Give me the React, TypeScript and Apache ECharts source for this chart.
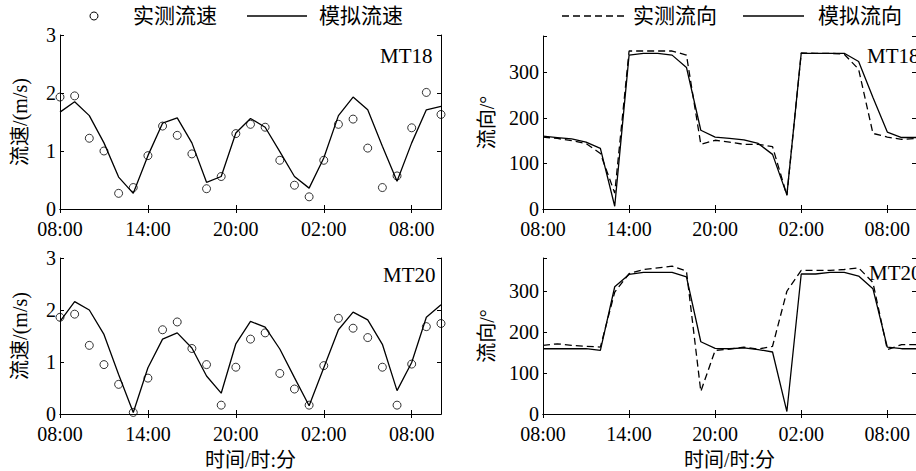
import React, { useEffect, useRef } from 'react';
import * as echarts from 'echarts';

const times = [
  '08:00', '09:00', '10:00', '11:00', '12:00', '13:00', '14:00', '15:00', '16:00',
  '17:00', '18:00', '19:00', '20:00', '21:00', '22:00', '23:00', '00:00', '01:00',
  '02:00', '03:00', '04:00', '05:00', '06:00', '07:00', '08:00', '09:00', '10:00',
];

const mt18SpeedObs = [1.93, 1.95, 1.22, 1.0, 0.27, 0.37, 0.92, 1.43, 1.27, 0.95, 0.35, 0.56, 1.3, 1.46, 1.41, 0.84, 0.41, 0.21, 0.84, 1.46, 1.55, 1.05, 0.37, 0.57, 1.4, 2.01, 1.63];
const mt18SpeedSim = [1.67, 1.85, 1.61, 1.14, 0.55, 0.27, 0.92, 1.48, 1.57, 1.14, 0.46, 0.56, 1.31, 1.56, 1.41, 0.99, 0.56, 0.36, 0.88, 1.61, 1.93, 1.71, 1.08, 0.48, 1.14, 1.71, 1.77];
const mt20SpeedObs = [1.86, 1.92, 1.32, 0.95, 0.57, 0.03, 0.69, 1.62, 1.77, 1.26, 0.95, 0.17, 0.9, 1.44, 1.56, 0.78, 0.48, 0.17, 0.93, 1.84, 1.65, 1.47, 0.9, 0.17, 0.96, 1.68, 1.74];
const mt20SpeedSim = [1.78, 2.16, 2.0, 1.53, 0.76, 0.03, 0.89, 1.44, 1.56, 1.27, 0.73, 0.4, 1.35, 1.78, 1.67, 1.25, 0.7, 0.16, 0.89, 1.62, 1.96, 1.81, 1.34, 0.45, 0.99, 1.86, 2.1];

const mt18DirObs = [158, 155, 150, 144, 122, 35, 347, 347, 347, 347, 338, 142, 151, 147, 142, 142, 137, 30, 343, 342, 342, 340, 307, 166, 158, 153, 155];
const mt18DirSim = [160, 157, 154, 147, 133, 6, 338, 342, 342, 338, 311, 173, 158, 155, 152, 144, 120, 31, 342, 342, 342, 342, 324, 245, 169, 157, 157];
const mt20DirObs = [167, 171, 167, 165, 163, 297, 342, 352, 356, 360, 348, 55, 155, 158, 163, 158, 165, 299, 350, 350, 350, 352, 356, 320, 157, 169, 169];
const mt20DirSim = [159, 159, 159, 159, 155, 310, 340, 345, 345, 345, 334, 176, 160, 159, 161, 157, 151, 6, 341, 341, 345, 345, 336, 305, 163, 159, 159];

const FONT = "'Liberation Serif', 'Noto Sans CJK SC', serif";
const BLACK = '#000';

function xAxes(gridIndex: number, name?: string) {
  const common = {
    type: 'category',
    data: times,
    boundaryGap: false,
    gridIndex,
    axisLine: { show: true, lineStyle: { color: BLACK, width: 1 } },
    axisTick: { show: true, inside: true, length: 4, interval: 5, lineStyle: { color: BLACK } },
    splitLine: { show: false },
  };
  return [
    {
      ...common,
      position: 'bottom',
      axisLabel: { interval: 5, color: BLACK, fontSize: 20, fontFamily: FONT, margin: 10 },
      name: name || '',
      nameLocation: 'middle',
      nameGap: 36,
      nameTextStyle: { color: BLACK, fontSize: 20, fontFamily: FONT },
    },
    { ...common, position: 'top', axisLabel: { show: false } },
  ];
}

function yAxes(gridIndex: number, max: number, interval: number, name: string, nameGap: number) {
  const common = {
    type: 'value',
    min: 0,
    max,
    interval,
    gridIndex,
    axisLine: { show: true, lineStyle: { color: BLACK, width: 1 } },
    axisTick: { show: true, inside: true, length: 4, lineStyle: { color: BLACK } },
    splitLine: { show: false },
  };
  return [
    {
      ...common,
      position: 'left',
      axisLabel: {
        color: BLACK,
        fontSize: 20,
        fontFamily: FONT,
        margin: 4,
        formatter: (v: number) => (v % interval === 0 ? String(v) : ''),
      },
      name,
      nameLocation: 'middle',
      nameGap,
      nameTextStyle: { color: BLACK, fontSize: 20, fontFamily: FONT },
    },
    { ...common, position: 'right', axisLabel: { show: false } },
  ];
}

function obsScatter(i: number, data: number[], name: string) {
  return {
    type: 'scatter',
    name,
    xAxisIndex: i * 2,
    yAxisIndex: i * 2,
    data,
    symbol: 'circle',
    symbolSize: 8,
    itemStyle: { color: 'rgba(0,0,0,0)', borderColor: BLACK, borderWidth: 1 },
    z: 3,
  };
}

function simLine(i: number, data: number[], name: string, dashed = false) {
  return {
    type: 'line',
    name,
    xAxisIndex: i * 2,
    yAxisIndex: i * 2,
    data,
    showSymbol: false,
    symbol: 'none',
    lineStyle: { color: BLACK, width: 1.3, type: dashed ? [7, 4] : 'solid' },
  };
}

function txt(text: string, x: number, y: number, size = 21) {
  return {
    type: 'text',
    x,
    y,
    style: {
      text,
      fill: BLACK,
      fontSize: size,
      fontFamily: FONT,
      textAlign: 'left',
      textVerticalAlign: 'middle',
    },
  };
}

function hline(x1: number, x2: number, y: number, dashed = false) {
  return {
    type: 'line',
    shape: { x1, y1: y, x2, y2: y },
    style: { stroke: BLACK, lineWidth: 1.3, lineDash: dashed ? [7, 4] : null },
  };
}

export default function App() {
  const ref = useRef<HTMLDivElement>(null);
  useEffect(() => {
    const chart = echarts.init(ref.current!, null, { renderer: 'svg' });
    const option = {
      animation: false,
      backgroundColor: '#fff',
      grid: [
        { left: 60, top: 35, width: 381, height: 174 },
        { left: 60, top: 258, width: 381, height: 157 },
        { left: 543, top: 36, width: 378, height: 173 },
        { left: 543, top: 258, width: 378, height: 156 },
      ],
      xAxis: [
        ...xAxes(0),
        ...xAxes(1, '时间/时:分'),
        ...xAxes(2),
        ...xAxes(3, '时间/时:分'),
      ],
      yAxis: [
        ...yAxes(0, 3, 1, '流速/(m/s)', 30),
        ...yAxes(1, 3, 1, '流速/(m/s)', 30),
        ...yAxes(2, 380, 100, '流向/°', 46),
        ...yAxes(3, 380, 100, '流向/°', 46),
      ],
      series: [
        simLine(0, mt18SpeedSim, '模拟流速'),
        obsScatter(0, mt18SpeedObs, '实测流速'),
        simLine(1, mt20SpeedSim, '模拟流速'),
        obsScatter(1, mt20SpeedObs, '实测流速'),
        simLine(2, mt18DirObs, '实测流向', true),
        simLine(2, mt18DirSim, '模拟流向'),
        simLine(3, mt20DirObs, '实测流向', true),
        simLine(3, mt20DirSim, '模拟流向'),
      ],
      graphic: [
        {
          type: 'circle',
          shape: { cx: 94, cy: 16, r: 4 },
          style: { fill: 'none', stroke: BLACK, lineWidth: 1 },
        },
        txt('实测流速', 133, 16),
        hline(247, 307, 16),
        txt('模拟流速', 319, 16),
        hline(562, 628, 16, true),
        txt('实测流向', 633, 16),
        hline(743, 804, 16),
        txt('模拟流向', 818, 16),
        txt('MT18', 380, 56),
        txt('MT20', 383, 275),
        txt('MT18', 867, 56),
        txt('MT20', 869, 273),
      ],
    };
    chart.setOption(option as any);
    return () => chart.dispose();
  }, []);
  return (
    <div
      ref={ref}
      style={{ position: 'fixed', left: 0, top: 0, width: 916, height: 471, background: '#fff' }}
    />
  );
}
